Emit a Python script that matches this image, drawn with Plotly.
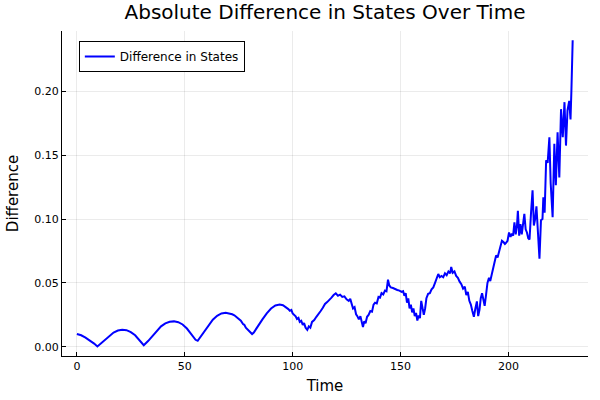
import plotly.graph_objects as go

time = [0, 2, 4, 6, 8, 9.5, 11, 13, 15, 17, 19, 21, 23, 25, 27, 29, 31, 33, 35, 37, 39, 41, 43, 45, 47, 49, 51, 53, 55, 56, 57, 59, 61, 63, 65, 67, 69, 71,
        72, 73, 74, 74.7, 75.4, 76, 77, 77.6, 78.3, 79, 79.7, 80.4, 81.2, 82, 83, 84, 86, 88, 90, 92, 94, 95.5, 97, 98, 98.7, 99.4, 100, 100.7, 101.4,
        102, 102.7, 103.3, 104, 104.7, 105.3, 106, 106.8, 107.5, 108.2, 109, 110, 111, 112, 113, 114, 115, 116, 117, 118, 119, 120, 121, 122, 123, 124,
        125, 126, 126.7, 127.4, 128, 128.7, 129.4, 130, 130.7, 131.4, 132.1, 132.6, 133.2, 133.8, 134.5, 135.2, 136, 136.8, 137.5, 138.2, 139, 139.8,
        140.5, 141.2, 142, 142.8, 143.5, 144.2, 144.8, 145.5, 146.5, 147.5, 148.5, 149.5, 150.5, 151.2, 151.8, 152.4, 153, 153.6, 154.2, 154.8, 155.4,
        156, 156.6, 157.2, 157.8, 158.4, 159, 159.6, 160.2, 160.8, 161.4, 162, 162.8, 163.6, 164.4, 165.2, 166, 166.8, 167.5, 168.2, 169, 169.8, 170.6,
        171.4, 172.2, 173, 173.5, 174.2, 175, 175.8, 176.6, 177.4, 178.2, 179, 179.8, 180.5, 181.2, 181.9, 182.6, 183.3, 184, 184.7, 185.4, 186, 186.6,
        187.2, 187.8, 188.4, 189, 189.6, 190.3, 191, 191.6, 192.2, 192.9, 193.6, 194.3, 195, 195.7, 196.4, 197, 197.7, 198.4, 199, 199.6, 200.3, 201,
        201.6, 202.2, 202.8, 203.4, 204, 204.4, 205, 205.6, 206.2, 206.8, 207.4, 208, 208.6, 209.2, 209.8, 210.5, 211.2, 211.8, 212.4, 213, 213.6,
        214.4, 215.1, 215.8, 216.2, 216.8, 217.5, 218.2, 219, 219.6, 220.5, 221.3, 222, 222.8, 223.6, 224.4, 225.2, 226, 226.7, 227.4, 228.2, 228.8,
        229.2, 229.8]

difference = [0.0100, 0.0090, 0.0072, 0.0050, 0.0025, 0.0003, 0.0025, 0.0058, 0.0088, 0.0112, 0.0127, 0.0133, 0.0130, 0.0115, 0.0090, 0.0055,
              0.0012, 0.0045, 0.0085, 0.0125, 0.0160, 0.0183, 0.0196, 0.0199, 0.0193, 0.0175, 0.0143, 0.0100, 0.0055, 0.0047, 0.0070, 0.0120,
              0.0170, 0.0212, 0.0243, 0.0261, 0.0267, 0.0262,
              0.0255, 0.0247, 0.0232, 0.0225, 0.0212, 0.0205, 0.0178, 0.0172, 0.0150, 0.0138, 0.0120, 0.0108, 0.0100, 0.0112, 0.0140, 0.0165,
              0.0215, 0.0262, 0.0300, 0.0324, 0.0331, 0.0325, 0.0310, 0.0295, 0.0282, 0.0288, 0.0262, 0.0250, 0.0238,
              0.0218, 0.0226, 0.0195, 0.0203, 0.0172, 0.0185, 0.0150, 0.0133, 0.0160, 0.0150, 0.0195, 0.0210, 0.0235, 0.0255, 0.0280, 0.0305,
              0.0335, 0.0350, 0.0372, 0.0385, 0.0405, 0.0418, 0.0400, 0.0408, 0.0390, 0.0395,
              0.0372, 0.0360, 0.0375, 0.0320, 0.0300, 0.0310, 0.0255, 0.0240, 0.0215, 0.0240, 0.0180, 0.0155, 0.0200, 0.0185, 0.0235, 0.0250,
              0.0280, 0.0275, 0.0330, 0.0345, 0.0340, 0.0390,
              0.0385, 0.0420, 0.0410, 0.0440, 0.0435, 0.0525, 0.0480, 0.0465, 0.0460, 0.0450, 0.0445, 0.0440, 0.0430, 0.0435, 0.0400, 0.0420,
              0.0345, 0.0380, 0.0300, 0.0330, 0.0270,
              0.0300, 0.0240, 0.0265, 0.0205, 0.0245, 0.0225, 0.0360, 0.0310, 0.0250, 0.0300, 0.0380, 0.0415, 0.0420, 0.0450, 0.0465, 0.0500,
              0.0540, 0.0570, 0.0545, 0.0555, 0.0545, 0.0575,
              0.0560, 0.0590, 0.0575, 0.0625, 0.0580, 0.0590, 0.0555, 0.0540, 0.0510, 0.0490, 0.0455, 0.0470, 0.0405, 0.0430, 0.0360, 0.0330,
              0.0280, 0.0235, 0.0300, 0.0355, 0.0240, 0.0290,
              0.0380, 0.0420, 0.0370, 0.0320, 0.0400, 0.0500, 0.0540, 0.0515, 0.0560, 0.0610, 0.0660, 0.0715, 0.0700, 0.0755, 0.0790, 0.0830,
              0.0820, 0.0805, 0.0815, 0.0830, 0.0895, 0.0860,
              0.0885, 0.0870, 0.0975, 0.0880, 0.0955, 0.1065, 0.0870, 0.0960, 0.0880, 0.0950, 0.1040, 0.0920, 0.0895, 0.0850, 0.0840, 0.1050,
              0.1225, 0.0950, 0.1000, 0.1100, 0.0940,
              0.0690, 0.0990, 0.1000, 0.1170, 0.1050, 0.1460, 0.1440, 0.1640, 0.1280, 0.1015, 0.1590, 0.1265, 0.1680, 0.1325, 0.1860, 0.1640,
              0.1915, 0.1575, 0.1850, 0.1925, 0.1780,
              0.2000, 0.2400]

x_ticks = [0, 50, 100, 150, 200]
y_ticks = [0.00, 0.05, 0.10, 0.15, 0.20]

FONT = "DejaVu Sans"

fig = go.Figure()
fig.add_trace(go.Scatter(
    x=time, y=difference, mode="lines", name="Difference in States",
    line=dict(color="#0000FF", width=2),
))

fig.update_layout(
    width=600, height=400,
    paper_bgcolor="white", plot_bgcolor="white",
    margin=dict(l=62, r=12, t=31, b=44, autoexpand=False),
    font=dict(family=FONT, color="black"),
    title=dict(text="Absolute Difference in States Over Time", x=0.5, xref="paper",
               y=0.97, yref="container", yanchor="middle",
               font=dict(family=FONT, size=20, color="black")),
    showlegend=True,
    legend=dict(x=0.032, y=0.969, xanchor="left", yanchor="top",
                bordercolor="black", borderwidth=1, bgcolor="white",
                tracegroupgap=0, itemwidth=30,
                font=dict(family=FONT, size=12, color="black")),
    xaxis=dict(
        range=[-6.9, 236.9], tickvals=x_ticks, ticktext=[str(v) for v in x_ticks],
        showline=True, linecolor="black", linewidth=1, mirror=False,
        ticks="inside", ticklen=4, tickcolor="black", automargin=False,
        showgrid=True, gridcolor="rgba(0,0,0,0.08)", gridwidth=1, zeroline=False,
        tickfont=dict(family=FONT, size=11, color="black"),
        title=dict(text="Time", font=dict(family=FONT, size=15, color="black"), standoff=8),
    ),
    yaxis=dict(
        range=[-0.0072, 0.2472], tickvals=y_ticks, ticktext=[f"{v:.2f}" for v in y_ticks],
        showline=True, linecolor="black", linewidth=1, mirror=False,
        ticks="inside", ticklen=4, tickcolor="black", automargin=False,
        showgrid=True, gridcolor="rgba(0,0,0,0.08)", gridwidth=1, zeroline=False,
        tickfont=dict(family=FONT, size=11, color="black"),
        title=dict(text="Difference", font=dict(family=FONT, size=15, color="black"), standoff=12),
    ),
)

fig.write_html("out.html", config={"displayModeBar": False},
               post_script="document.body.style.margin='0';document.body.style.overflow='hidden';")
